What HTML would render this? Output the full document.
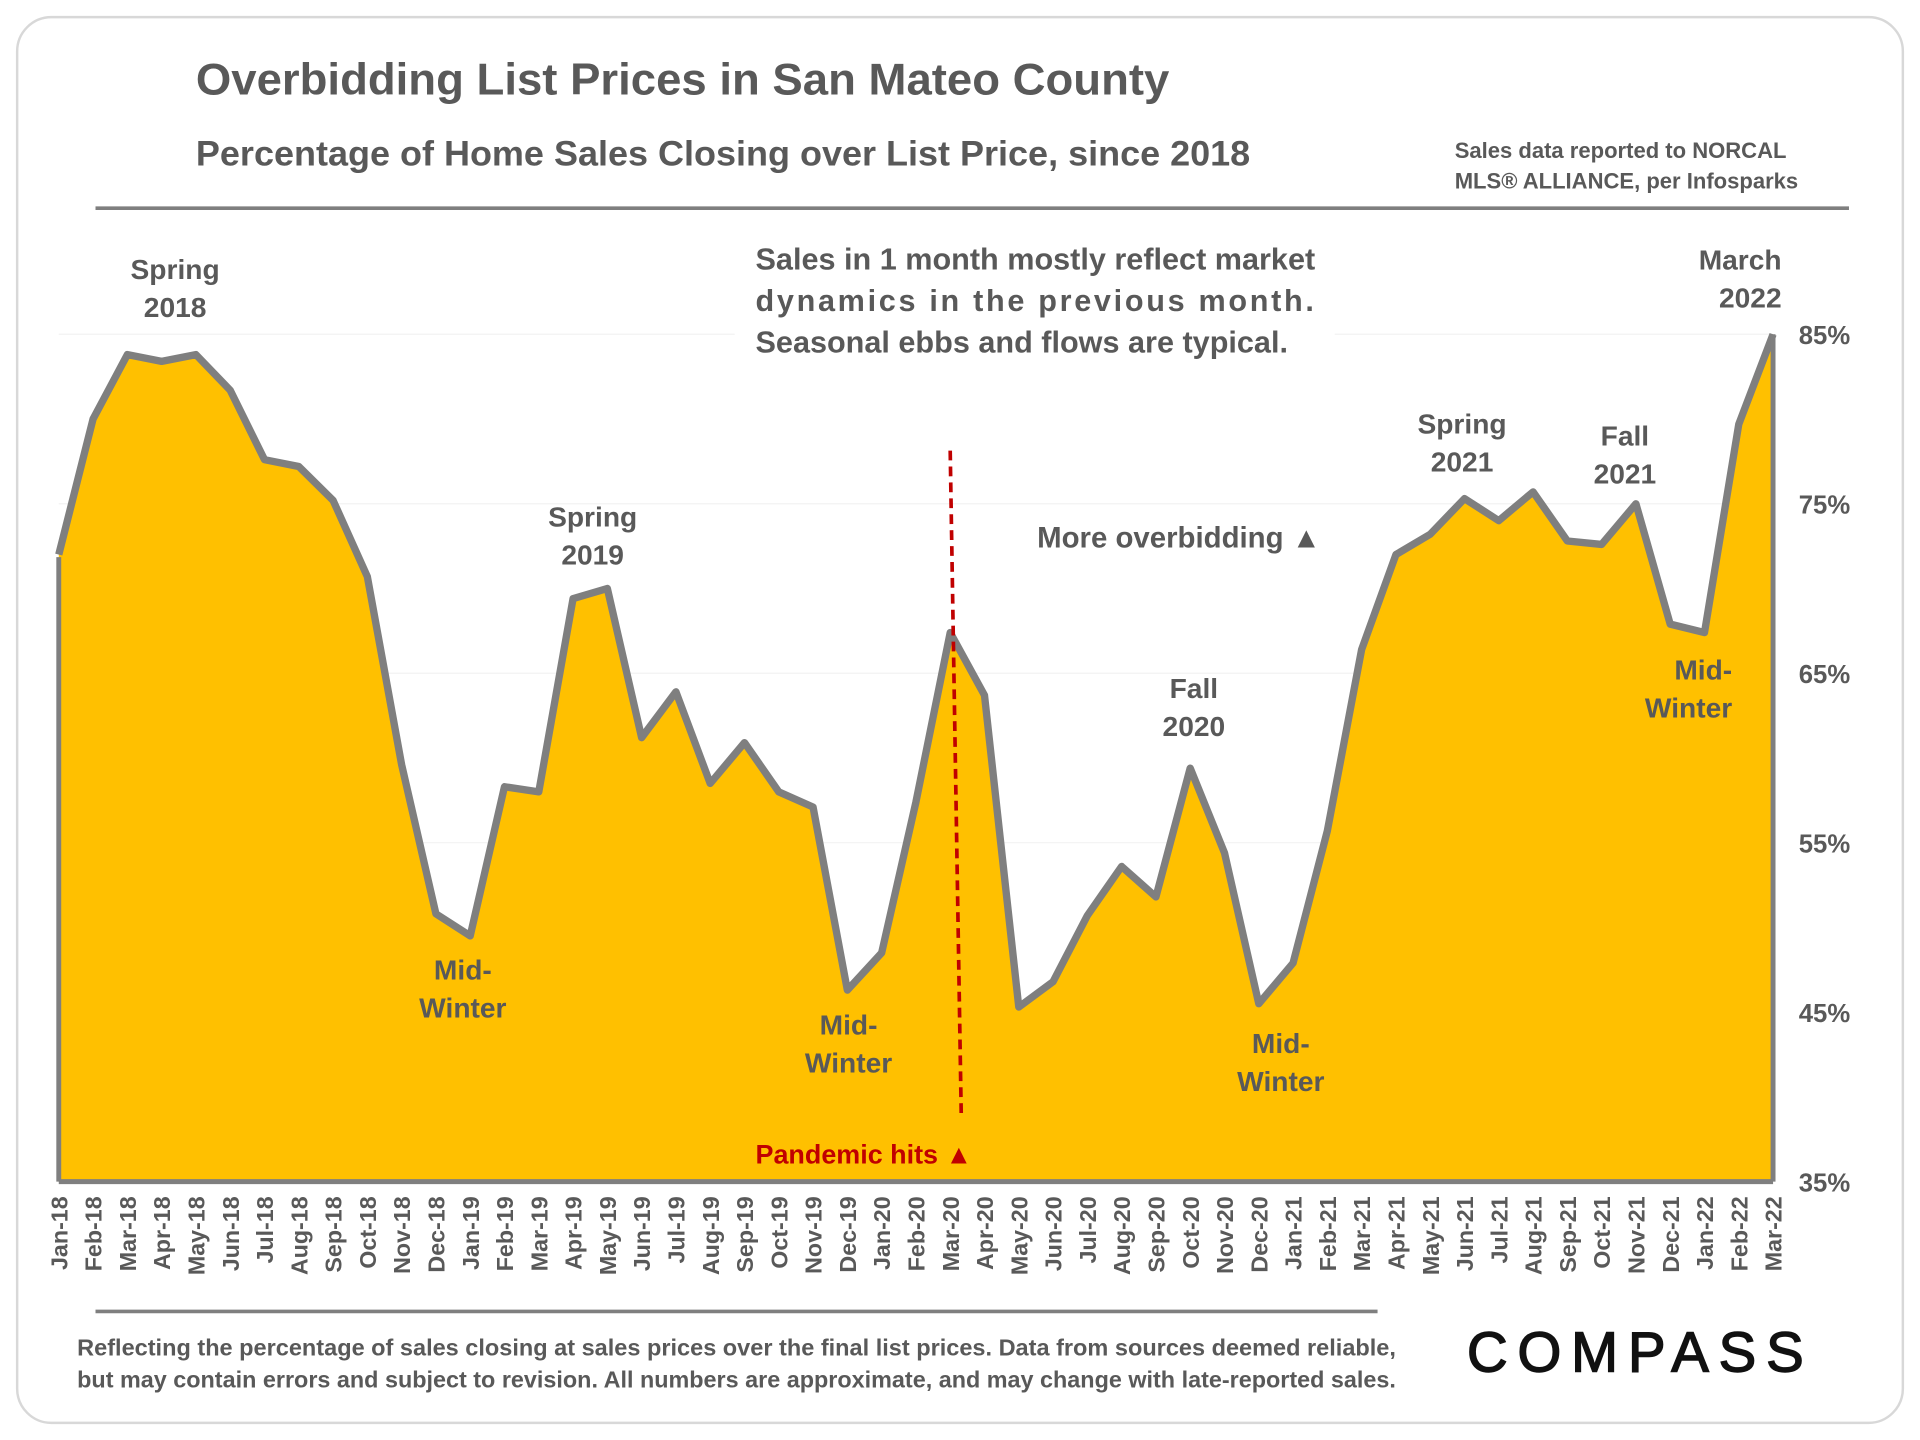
<!DOCTYPE html>
<html><head><meta charset="utf-8"><style>
html,body{margin:0;padding:0;background:#fff;}
svg{display:block;font-family:"Liberation Sans",Calibri,sans-serif;}
</style></head><body>
<svg id="chart" width="1920" height="1440" viewBox="0 0 1568 1176" xmlns="http://www.w3.org/2000/svg">
<rect x="14" y="14" width="1540" height="1148" rx="28" fill="#fff" stroke="#d8d8d8" stroke-width="2"/>
<text x="160" y="77" font-size="36" font-weight="bold" fill="#595959" textLength="795" lengthAdjust="spacingAndGlyphs">Overbidding List Prices in San Mateo County</text>
<text x="160" y="135" font-size="29" font-weight="bold" fill="#595959" textLength="861" lengthAdjust="spacingAndGlyphs">Percentage of Home Sales Closing over List Price, since 2018</text>
<text font-size="18" font-weight="bold" fill="#595959"><tspan x="1188" y="129">Sales data reported to NORCAL</tspan><tspan x="1188" y="154">MLS® ALLIANCE, per Infosparks</tspan></text>
<line x1="78" y1="170" x2="1510" y2="170" stroke="#7f7f7f" stroke-width="3"/>
<g id="grid"></g>
<path id="area" fill="#ffc000"/>
<path id="line" fill="none" stroke="#7f7f7f" stroke-width="6" stroke-linejoin="round"/>
<line x1="48" y1="965" x2="1448" y2="965" stroke="#7f7f7f" stroke-width="4"/>
<line x1="48" y1="455" x2="48" y2="965" stroke="#7f7f7f" stroke-width="4"/>
<line x1="1448" y1="273" x2="1448" y2="965" stroke="#7f7f7f" stroke-width="4"/>
<g id="yticks"></g>
<g id="xticks"></g>
<line x1="776" y1="368" x2="785" y2="910" stroke="#c00000" stroke-width="3" stroke-dasharray="8,5"/>
<text x="617" y="950" font-size="22" font-weight="bold" fill="#c00000">Pandemic hits ▲</text>
<rect x="600" y="190" width="490" height="110" fill="#fff"/>
<text font-size="25" font-weight="bold" fill="#595959"><tspan x="617" y="220">Sales in 1 month mostly reflect market</tspan><tspan x="617" y="254" textLength="456" lengthAdjust="spacing">dynamics in the previous month.</tspan><tspan x="617" y="288">Seasonal ebbs and flows are typical.</tspan></text>
<text x="847" y="447" font-size="24" font-weight="bold" fill="#595959">More overbidding ▲</text>
<g font-size="23" font-weight="bold" fill="#595959" text-anchor="middle">
<text><tspan x="143" y="228">Spring</tspan><tspan x="143" y="259">2018</tspan></text>
<text><tspan x="378" y="800">Mid-</tspan><tspan x="378" y="831">Winter</tspan></text>
<text><tspan x="484" y="430">Spring</tspan><tspan x="484" y="461">2019</tspan></text>
<text><tspan x="693" y="845">Mid-</tspan><tspan x="693" y="876">Winter</tspan></text>
<text><tspan x="975" y="570">Fall</tspan><tspan x="975" y="601">2020</tspan></text>
<text><tspan x="1046" y="860">Mid-</tspan><tspan x="1046" y="891">Winter</tspan></text>
<text><tspan x="1194" y="354">Spring</tspan><tspan x="1194" y="385">2021</tspan></text>
<text><tspan x="1327" y="364">Fall</tspan><tspan x="1327" y="395">2021</tspan></text>
<text><tspan x="1391" y="555">Mid-</tspan><tspan x="1379" y="586">Winter</tspan></text>
<text text-anchor="end"><tspan x="1455" y="220">March</tspan><tspan x="1455" y="251">2022</tspan></text>
</g>
<line x1="78" y1="1071" x2="1125" y2="1071" stroke="#7f7f7f" stroke-width="3"/>
<text font-size="18.5" font-weight="bold" fill="#595959"><tspan x="63" y="1107" textLength="1077" lengthAdjust="spacingAndGlyphs">Reflecting the percentage of sales closing at sales prices over the final list prices. Data from sources deemed reliable,</tspan><tspan x="63" y="1133" textLength="1077" lengthAdjust="spacingAndGlyphs">but may contain errors and subject to revision. All numbers are approximate, and may change with late-reported sales.</tspan></text>
<text x="1198" y="1120" font-size="46" fill="#111" stroke="#111" stroke-width="1.2" letter-spacing="7" textLength="282" lengthAdjust="spacing">COMPASS</text>
</svg>
<script>
const months=["Jan","Feb","Mar","Apr","May","Jun","Jul","Aug","Sep","Oct","Nov","Dec"];
const categories=[];
for(let y=18;y<=22;y++)for(let m=0;m<12;m++){if(y===22&&m>2)break;categories.push(months[m]+"-"+y);}
const values=[72,80,83.8,83.4,83.8,81.7,77.6,77.2,75.2,70.7,59.6,50.8,49.5,58.3,58,69.4,70,61.2,63.9,58.5,60.9,58,57.1,46.3,48.5,57.4,67.4,63.7,45.3,46.8,50.7,53.6,51.8,59.4,54.4,45.5,47.9,55.7,66.4,72,73.2,75.3,74,75.7,72.8,72.6,75,67.9,67.4,79.7,85];
const yTicks=[35,45,55,65,75,85];
const yTickLabels=["35%","45%","55%","65%","75%","85%"];
const NS="http://www.w3.org/2000/svg";
const X0=48,X1=1448,Y0=965,Y1=273,V0=35,V1=85;
function xs(i){return X0+(X1-X0)*i/(categories.length-1);}
function ys(v){return Y0-(v-V0)*(Y0-Y1)/(V1-V0);}
let d="";values.forEach((v,i)=>{d+=(i?"L":"M")+xs(i).toFixed(1)+","+ys(v).toFixed(1);});
document.getElementById("line").setAttribute("d",d);
document.getElementById("area").setAttribute("d",d+"L"+xs(values.length-1)+","+Y0+"L"+X0+","+Y0+"Z");
const grid=document.getElementById("grid"),yt=document.getElementById("yticks"),xt=document.getElementById("xticks");
yTicks.forEach((v,i)=>{
 const l=document.createElementNS(NS,"line");
 
 
 l.setAttribute("x1",X0);l.setAttribute("x2",X1);l.setAttribute("y1",ys(v));l.setAttribute("y2",ys(v));l.setAttribute("stroke","#f2f2f2");
 grid.appendChild(l);
 const t=document.createElementNS(NS,"text");
 
 
 t.setAttribute("x",1469);t.setAttribute("y",ys(v)+8);t.setAttribute("font-size","21");t.setAttribute("font-weight","bold");t.setAttribute("fill","#595959");
 t.textContent=yTickLabels[i];yt.appendChild(t);
});
categories.forEach((c,i)=>{
 const t=document.createElementNS(NS,"text");
 
 
 const x=xs(i)+7,y=977;
 t.setAttribute("transform","translate("+x+","+y+") rotate(-90)");
 t.setAttribute("text-anchor","end");t.setAttribute("font-size","19");t.setAttribute("font-weight","bold");t.setAttribute("fill","#595959");
 t.textContent=c;xt.appendChild(t);
});
</script>
</body></html>
